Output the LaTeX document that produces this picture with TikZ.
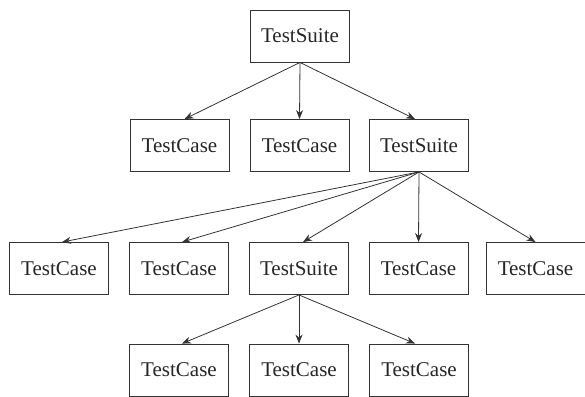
\documentclass[tikz,border=0pt]{standalone}
\usepackage{fontspec}
\setmainfont{Liberation Serif}
\usetikzlibrary{arrows.meta}
\begin{document}
\begin{tikzpicture}[x=1pt,y=-1pt,
  box/.style={draw=black!80, line width=0.9pt, minimum width=99pt, minimum height=52pt,
    inner sep=0pt, font=\fontsize{21}{22}\selectfont, text=black!85},
  link/.style={draw=black!80, line width=0.8pt, -{Stealth[length=9pt,width=7pt]}}]
  \useasboundingbox (0,0) rectangle (585,396);
  % root
  \node[box] (root) at (300,36) {TestSuite};
  % second level
  \node[box] (c1) at (179.5,145.5) {TestCase};
  \node[box] (c2) at (299.5,145.5) {TestCase};
  \node[box] (s1) at (419,145.5) {TestSuite};
  % third level
  \node[box] (d1) at (59,268.5) {TestCase};
  \node[box] (d2) at (179,268.5) {TestCase};
  \node[box] (s2) at (299,268.5) {TestSuite};
  \node[box] (d3) at (418.5,268.5) {TestCase};
  \node[box] (d4) at (535.5,268.5) {TestCase};
  % fourth level
  \node[box] (e1) at (179,370) {TestCase};
  \node[box] (e2) at (299,370) {TestCase};
  \node[box] (e3) at (419,370) {TestCase};
  % connectors
  \draw[link] (root.south) -- ([xshift=5pt]c1.north);
  \draw[link] (root.south) -- (c2.north);
  \draw[link] (root.south) -- ([xshift=-4pt]s1.north);
  \draw[link] (s1.south) -- ([xshift=3pt]d1.north);
  \draw[link] (s1.south) -- ([xshift=3pt]d2.north);
  \draw[link] (s1.south) -- ([xshift=4pt]s2.north);
  \draw[link] (s1.south) -- (d3.north);
  \draw[link] (s1.south) -- (d4.north);
  \draw[link] (s2.south) -- ([xshift=3pt]e1.north);
  \draw[link] (s2.south) -- (e2.north);
  \draw[link] (s2.south) -- ([xshift=-4pt]e3.north);
\end{tikzpicture}
\end{document}
